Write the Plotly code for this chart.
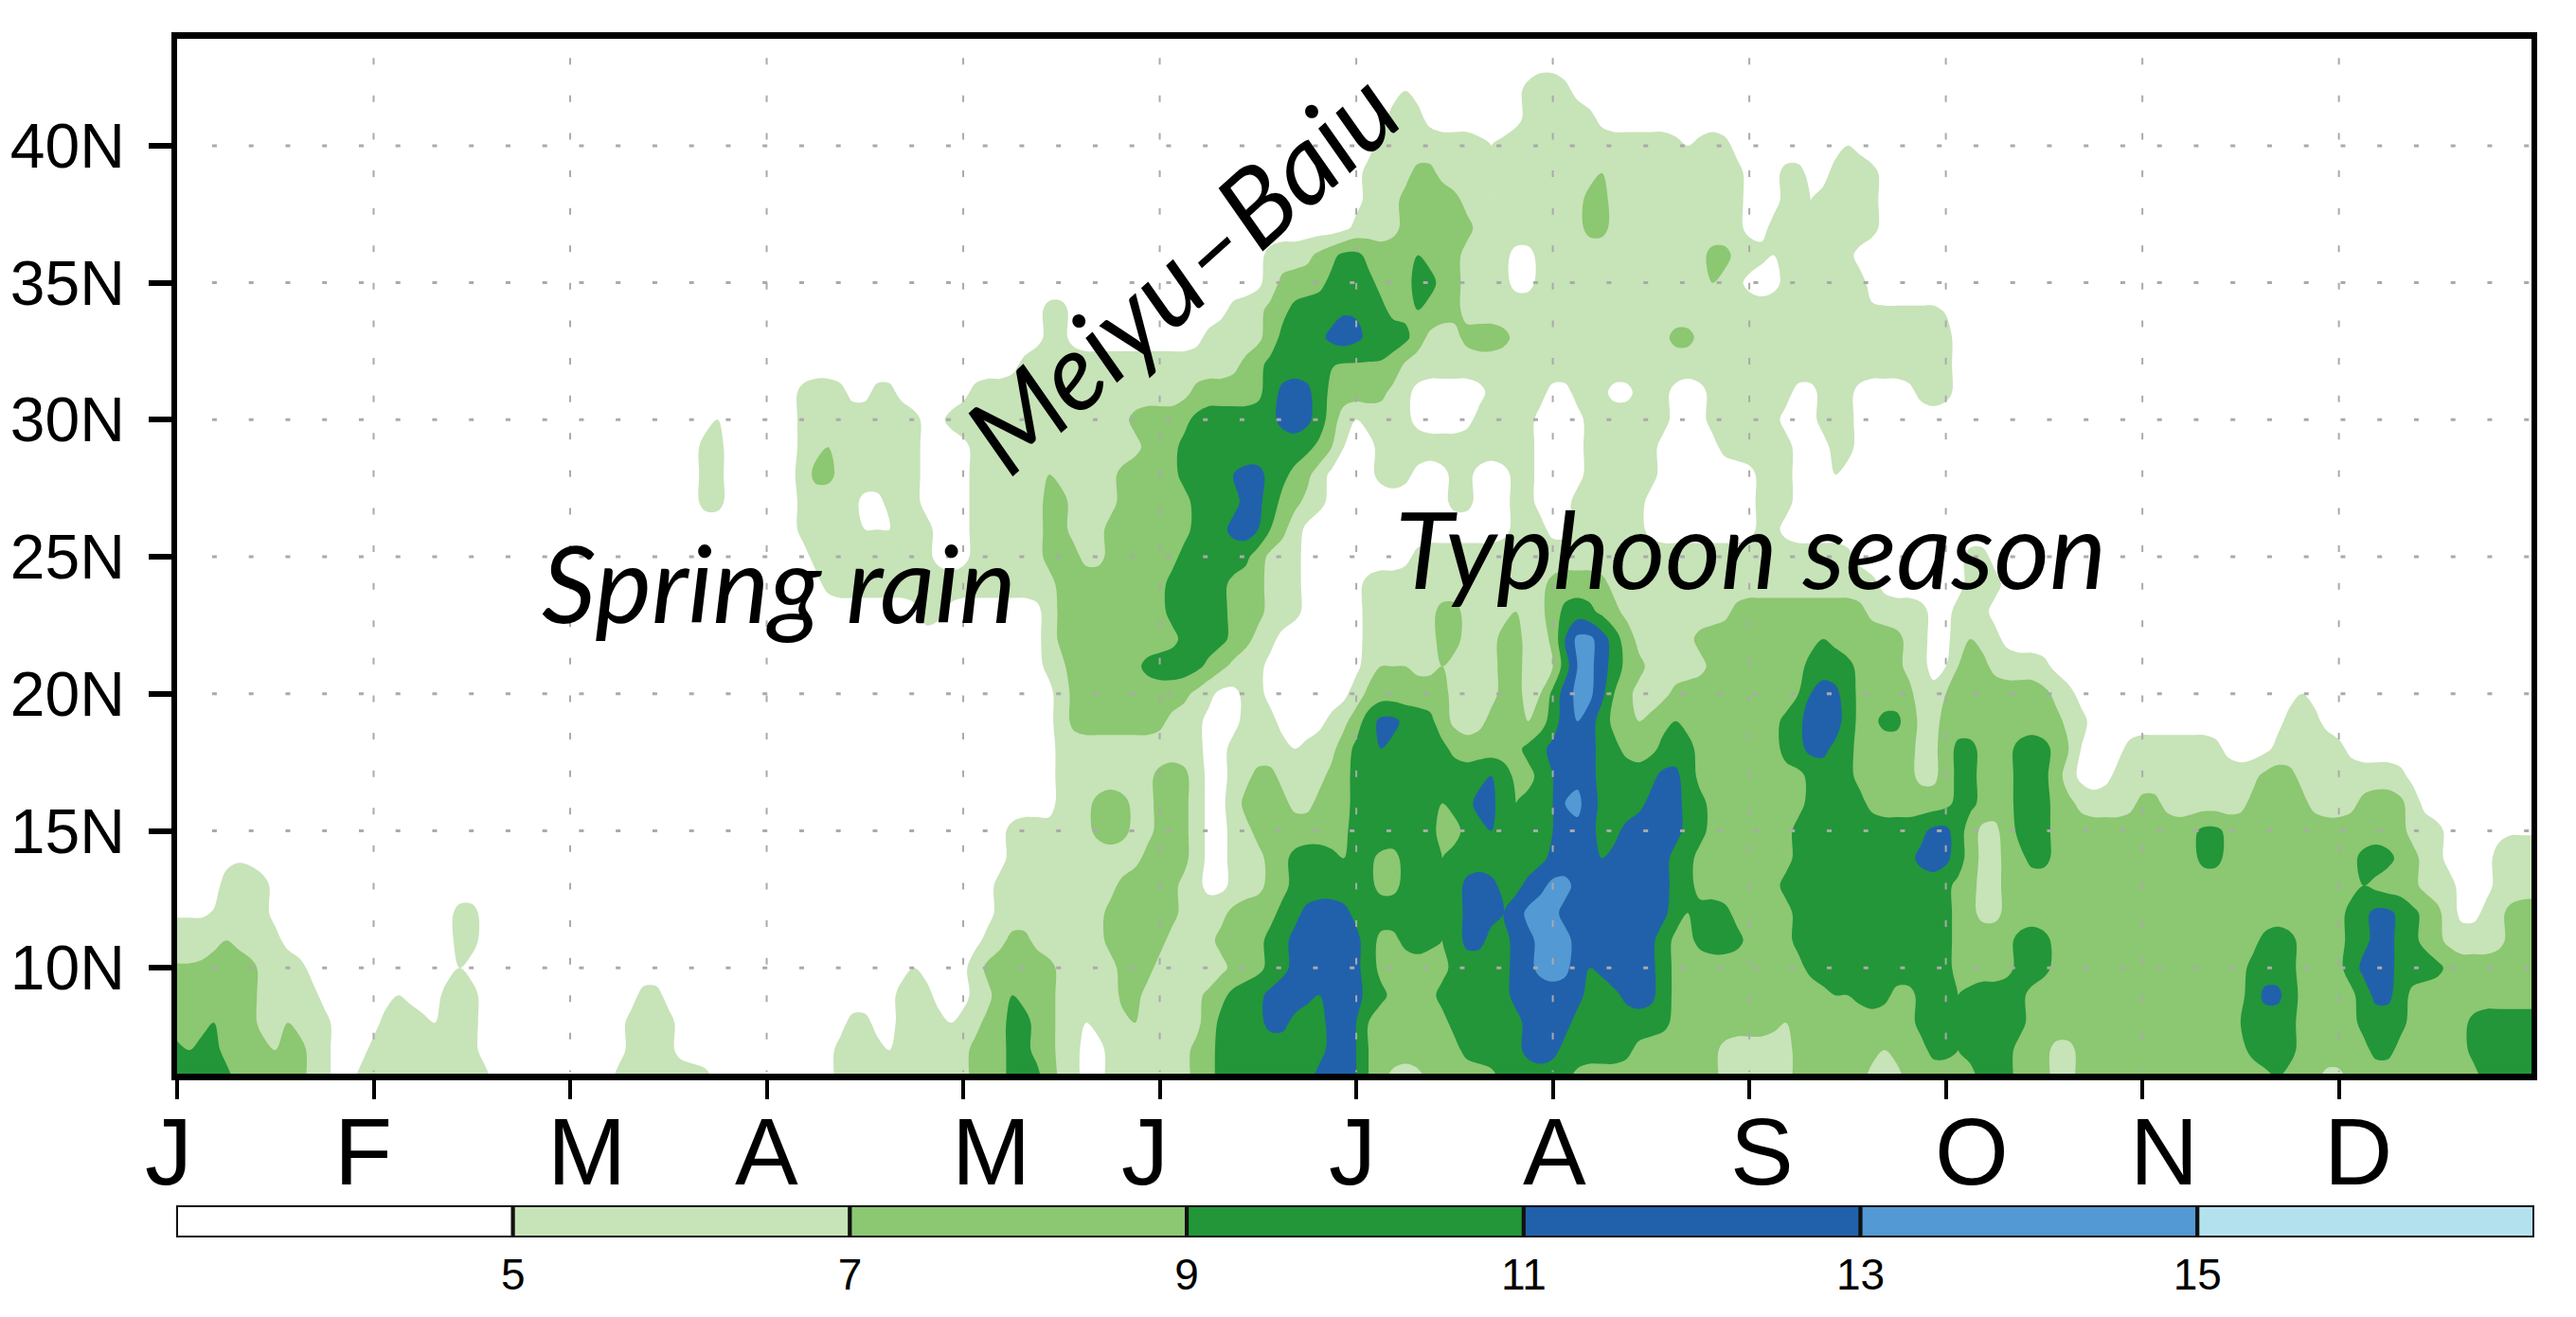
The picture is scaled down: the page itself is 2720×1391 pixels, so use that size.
import numpy as np
import plotly.graph_objects as go

W, H = 2712, 1383   # page keeps an 8 px body margin inside the 2720x1391 window
OFF = 8
def px(v): return (v - OFF) / W
def py(v): return 1 - (v - OFF) / H

# Rainfall (mm/day): (value, month where that value ends) per latitude row
lat_06 = [(10,.30),(8,.63),(6,.80),(4,.92),(6,1.57),(4,2.24),(6,2.74),(4,3.35),(6,4.06),(8,4.2),(10,4.38),(8,4.48),(6,4.58),(4,4.69),(6,5.15),(8,5.28),(10,5.81),(12,6.0),(10,6.04),(8,6.18),(6,6.37),(8,6.7),(10,7.12),(8,7.85),(6,8.2),(8,8.6),(6,8.77),(8,9.15),(10,9.33),(8,9.56),(6,9.68),(8,10.23),(6,10.27),(8,10.68),(10,10.72),(8,10.9),(6,11.06),(8,11.7),(10,12.1)]
lat_07 = [(10,.04),(8,.1),(10,.22),(8,.44),(6,.5),(8,.63),(6,.75),(4,.98),(6,1.53),(4,2.26),(6,2.55),(4,3.37),(6,3.62),(4,3.66),(6,4.06),(8,4.2),(10,4.36),(8,4.47),(6,4.6),(4,4.7),(6,4.83),(8,4.93),(6,5.16),(8,5.29),(10,5.82),(12,6.0),(10,6.05),(8,6.55),(10,6.85),(12,7.01),(10,7.39),(8,7.85),(6,8.2),(8,8.64),(6,8.74),(8,8.9),(10,9.04),(8,9.1),(10,9.35),(8,9.56),(6,9.68),(8,10.53),(10,10.77),(8,11.14),(10,11.31),(8,11.68),(10,12.1)]
lat_08 = [(8,.15),(10,.2),(8,.38),(6,.52),(8,.62),(6,.75),(4,1.03),(6,1.3),(4,1.36),(6,1.5),(4,2.29),(6,2.5),(4,3.41),(6,3.54),(4,3.64),(6,3.91),(4,3.95),(6,4.08),(8,4.2),(10,4.34),(8,4.47),(6,4.62),(4,4.68),(6,4.83),(8,4.93),(6,5.21),(8,5.29),(10,5.52),(12,5.68),(10,5.82),(12,6.01),(10,6.06),(8,6.48),(10,6.85),(12,7.07),(10,7.58),(8,8.14),(6,8.2),(8,8.83),(10,9.06),(8,9.1),(10,9.43),(8,10.41),(10,10.45),(8,10.52),(10,10.81),(8,11.1),(10,11.35),(8,11.66),(10,12.1)]
lat_09 = [(8,.38),(6,.71),(4,1.09),(6,1.17),(4,1.34),(6,1.51),(4,1.95),(6,2.0),(4,2.34),(6,2.49),(4,3.68),(6,3.87),(4,4.05),(6,4.14),(8,4.24),(10,4.27),(8,4.46),(6,4.63),(4,4.7),(6,4.79),(8,4.92),(6,5.21),(8,5.32),(10,5.55),(12,5.77),(10,5.82),(12,6.04),(10,6.15),(8,6.42),(10,6.8),(12,7.15),(10,7.34),(12,7.5),(10,7.59),(8,8.39),(10,8.47),(8,8.53),(10,8.72),(8,8.85),(10,9.03),(8,9.12),(10,9.43),(8,10.54),(10,10.61),(12,10.7),(10,10.8),(8,11.08),(10,11.14),(12,11.26),(10,11.35),(8,12.1)]
lat_10 = [(7.2,.15),(8,.38),(6,.65),(4,1.4),(6,1.49),(4,3.72),(6,3.78),(4,4.06),(6,4.12),(8,4.45),(6,4.79),(8,4.98),(6,5.15),(4,5.21),(6,5.37),(8,5.5),(10,5.66),(12,6.01),(10,6.09),(8,6.46),(10,6.79),(12,6.88),(14,7.08),(12,7.15),(10,7.2),(12,7.37),(14,7.4),(12,7.54),(10,7.59),(8,8.27),(10,9.02),(8,9.35),(10,9.52),(8,10.54),(10,10.79),(8,11.02),(10,11.12),(12,11.31),(10,11.5),(8,12.1)]
lat_11 = [(6,.2),(8,.29),(6,.56),(4,1.41),(6,1.52),(4,4.09),(6,4.23),(8,4.35),(6,4.73),(8,5.03),(6,5.3),(8,5.52),(10,5.68),(12,6.0),(10,6.1),(8,6.19),(10,6.38),(8,6.44),(10,6.54),(12,6.67),(10,6.8),(12,6.88),(14,7.07),(12,7.33),(14,7.42),(12,7.53),(10,7.59),(8,7.74),(10,7.95),(8,8.22),(10,8.87),(12,8.93),(10,9.04),(8,9.35),(10,9.56),(8,10.62),(10,10.81),(8,11.04),(10,11.16),(12,11.28),(10,11.43),(8,11.56),(6,11.83),(8,12.1)]
lat_12 = [(4.8,.2),(6,.44),(4,1.42),(6,1.53),(4,4.13),(6,4.73),(8,5.08),(6,5.34),(8,5.59),(10,5.69),(12,5.99),(10,6.41),(8,6.47),(10,6.54),(12,6.7),(10,6.8),(12,6.86),(14,7.01),(12,7.59),(10,7.66),(8,7.72),(10,7.93),(8,8.2),(10,8.85),(12,8.93),(10,9.06),(8,9.14),(6,9.31),(8,11.02),(10,11.15),(12,11.25),(10,11.39),(8,11.52),(6,11.6),(4,11.7),(6,11.87),(8,12.1)]
lat_13 = [(4,.22),(6,.44),(4,4.15),(6,4.52),(4,4.58),(6,4.77),(8,5.1),(6,5.2),(4,5.32),(6,5.5),(8,5.64),(10,6.11),(8,6.21),(10,6.41),(8,6.48),(10,6.53),(12,6.7),(10,6.83),(12,6.94),(14,7.07),(12,7.61),(10,7.69),(8,8.14),(10,9.06),(8,9.14),(6,9.31),(8,11.1),(10,11.18),(8,11.39),(6,11.58),(4,11.76),(6,12.1)]
lat_14 = [(4,.23),(4.8,.42),(4,4.2),(6,4.89),(8,5.14),(6,5.21),(4,5.36),(6,5.5),(8,5.67),(10,5.89),(8,5.96),(10,6.11),(8,6.21),(10,6.43),(8,6.49),(10,6.95),(12,7.23),(10,7.3),(12,7.61),(10,7.71),(8,8.2),(10,8.87),(12,9.0),(10,9.08),(8,9.16),(6,9.29),(8,9.4),(10,9.52),(8,9.89),(10,9.95),(8,10.29),(10,10.39),(8,11.08),(10,11.27),(8,11.39),(6,11.52),(4,11.75),(6,12.1)]
lat_15 = [(4,4.22),(6,4.44),(4,4.5),(6,4.68),(8,4.84),(6,4.98),(8,5.15),(6,5.21),(4,5.35),(6,5.47),(8,5.95),(10,6.06),(12,6.11),(10,6.43),(8,6.5),(10,6.65),(12,6.74),(10,6.79),(8,6.87),(10,7.0),(14,7.12),(12,7.22),(10,7.32),(12,7.65),(10,7.76),(8,8.22),(10,8.89),(12,9.01),(10,9.1),(8,9.16),(6,9.27),(8,9.37),(10,9.53),(8,10.3),(10,10.39),(8,11.35),(6,11.5),(4,11.75),(4.8,12.1)]
lat_16 = [(4,4.47),(6,4.67),(8,4.83),(6,4.97),(8,5.14),(6,5.21),(4,5.37),(6,5.43),(8,5.64),(6,5.79),(8,5.95),(10,6.11),(12,6.15),(10,6.43),(8,6.48),(10,6.59),(12,6.74),(10,6.79),(8,6.86),(10,7.0),(14,7.13),(12,7.22),(10,7.47),(12,7.65),(10,7.77),(8,8.0),(10,8.06),(8,8.25),(10,8.58),(8,9.04),(10,9.14),(8,9.37),(10,9.52),(8,9.66),(6,9.95),(8,10.08),(6,10.54),(8,10.87),(6,11.1),(8,11.33),(6,11.41),(4,12.1)]
lat_17 = [(4,4.47),(6,4.98),(8,5.13),(6,5.21),(4,5.37),(6,5.46),(8,5.59),(6,5.84),(8,5.96),(10,6.44),(8,6.49),(10,6.65),(12,6.74),(10,6.8),(8,6.92),(10,7.0),(14,7.12),(12,7.23),(10,7.54),(12,7.65),(10,7.74),(8,8.12),(10,8.18),(8,8.25),(10,8.5),(8,8.83),(6,8.95),(8,9.02),(10,9.14),(8,9.37),(10,9.52),(8,9.62),(6,9.68),(4,9.83),(6,10.6),(8,10.8),(6,11.35),(4,12.1)]
lat_18 = [(4,4.46),(6,5.21),(4,5.37),(6,5.65),(4,5.7),(6,5.89),(8,5.99),(10,6.11),(12,6.17),(10,6.44),(8,6.85),(10,6.97),(12,7.2),(10,7.32),(8,7.5),(10,7.71),(8,8.18),(10,8.27),(12,8.43),(10,8.5),(8,8.83),(6,8.95),(8,9.04),(10,9.14),(8,9.37),(10,9.52),(8,9.66),(4,9.91),(6,10.41),(4,10.66),(6,11.0),(4,12.1)]
lat_19 = [(4,4.45),(6,4.54),(8,5.03),(6,5.23),(4,5.4),(6,5.57),(4,5.82),(6,5.96),(8,6.06),(10,6.09),(12,6.21),(10,6.42),(8,6.48),(6,6.65),(8,6.82),(6,6.88),(8,6.97),(10,7.03),(12,7.1),(14,7.17),(12,7.23),(10,7.31),(8,7.39),(6,7.47),(8,7.59),(10,7.64),(8,8.16),(10,8.27),(12,8.32),(14,8.39),(12,8.45),(10,8.53),(8,8.66),(10,8.79),(8,8.83),(6,8.95),(8,9.62),(6,9.72),(4,10.72),(6,10.93),(4,12.1)]
lat_20 = [(4,4.45),(6,4.52),(8,5.13),(6,5.29),(4,5.41),(6,5.5),(4,5.98),(6,6.04),(8,6.46),(6,6.7),(8,6.82),(6,6.97),(10,7.03),(12,7.1),(14,7.21),(12,7.26),(10,7.31),(8,7.42),(6,7.57),(8,8.27),(10,8.31),(12,8.45),(10,8.5),(8,8.83),(6,8.91),(4,8.97),(8,9.56),(6,9.68),(4,10.81),(6,10.87),(4,12.1)]
lat_21 = [(4,4.41),(6,4.5),(8,4.6),(10,4.65),(8,4.88),(10,5.23),(8,5.32),(6,5.5),(4,6.01),(6,6.09),(8,6.14),(6,6.19),(8,6.29),(6,6.38),(8,6.46),(6,6.73),(8,6.85),(6,7.0),(10,7.07),(12,7.1),(14,7.23),(12,7.27),(10,7.32),(8,7.45),(6,7.75),(8,8.27),(10,8.51),(8,8.79),(6,8.91),(4,9.0),(8,9.2),(6,9.52),(4,12.1)]
lat_22 = [(4,3.7),(6,3.8),(4,4.39),(6,4.49),(8,5.08),(10,5.34),(8,5.47),(6,5.6),(4,6.01),(6,6.38),(8,6.5),(6,6.73),(8,6.86),(6,7.0),(10,7.05),(12,7.1),(14,7.22),(12,7.28),(10,7.33),(8,7.41),(6,7.69),(8,8.32),(10,8.43),(8,8.77),(6,8.91),(4,9.06),(6,9.1),(8,9.18),(6,9.25),(4,12.1)]
lat_23 = [(4,3.81),(6,3.91),(4,4.4),(6,4.48),(8,5.06),(10,5.35),(8,5.5),(6,5.7),(4,6.02),(6,6.4),(8,6.5),(6,6.75),(8,6.86),(6,6.98),(8,7.05),(10,7.2),(8,7.33),(6,7.93),(8,8.58),(6,8.89),(4,9.06),(6,9.22),(4,12.1)]
lat_24 = [(4,3.28),(6,4.48),(8,5.06),(10,5.33),(8,5.54),(6,5.7),(4,6.04),(6,6.98),(8,7.29),(6,7.5),(4,7.57),(6,8.65),(4,9.08),(6,9.25),(4,12.1)]
lat_25 = [(4,3.22),(6,3.87),(4,4.06),(6,4.39),(8,4.6),(6,4.71),(8,5.12),(10,5.47),(8,5.56),(6,5.7),(4,6.25),(6,8.5),(4,9.1),(6,9.22),(4,12.1)]
lat_26 = [(4,3.15),(6,3.49),(4,3.55),(6,3.62),(4,3.68),(6,3.87),(4,4.03),(6,4.39),(8,4.54),(6,4.73),(8,5.13),(10,5.36),(12,5.5),(10,5.54),(8,5.65),(6,5.72),(4,6.8),(6,6.94),(4,7.08),(6,7.44),(4,8.0),(6,8.17),(4,12.1)]
lat_27 = [(4,1.5),(6,1.56),(4,2.66),(6,2.8),(4,2.88),(6,2.94),(4,3.15),(6,3.49),(4,3.62),(6,3.79),(4,4.03),(6,4.39),(8,4.5),(6,4.79),(8,5.13),(10,5.39),(12,5.51),(10,5.6),(8,5.72),(6,5.82),(4,6.46),(6,6.57),(4,6.8),(6,6.93),(4,7.08),(6,7.45),(4,8.0),(6,8.19),(4,9.14),(6,9.19),(4,12.1)]
lat_28 = [(4,2.66),(6,2.8),(4,3.16),(6,3.22),(8,3.33),(6,3.79),(4,4.03),(6,4.38),(8,4.48),(6,4.81),(8,5.12),(10,5.26),(12,5.35),(10,5.43),(12,5.5),(10,5.65),(8,5.8),(6,5.87),(4,6.12),(6,6.26),(4,6.44),(6,6.6),(4,6.79),(6,6.9),(4,7.13),(6,7.54),(4,8.0),(6,8.21),(4,8.4),(6,8.47),(4,12.1)]
lat_29 = [(4,2.66),(6,2.78),(4,3.15),(6,3.26),(8,3.33),(6,3.79),(4,4.02),(6,4.39),(8,4.48),(6,4.9),(8,5.1),(10,5.26),(12,5.35),(10,5.8),(8,5.88),(6,5.93),(4,6.1),(6,6.89),(4,7.15),(6,7.55),(4,7.82),(6,8.19),(4,8.38),(6,8.55),(4,12.1)]
lat_30 = [(4,1.8),(6,1.85),(4,2.74),(6,2.8),(4,3.16),(6,3.79),(4,3.93),(6,4.87),(8,5.17),(10,5.58),(12,5.77),(10,5.83),(8,5.91),(6,5.97),(4,6.06),(6,6.3),(4,6.62),(6,6.88),(4,7.17),(6,7.58),(4,7.81),(6,8.17),(4,8.37),(6,8.55),(4,12.1)]
lat_31 = [(4,3.16),(6,3.41),(4,3.54),(6,3.68),(4,4.0),(6,5.16),(8,5.5),(10,5.58),(12,5.75),(10,5.83),(8,6.17),(6,6.31),(4,6.67),(6,6.89),(4,6.92),(6,6.98),(4,7.1),(6,7.27),(4,7.41),(6,7.59),(4,7.79),(6,7.88),(4,7.94),(6,8.23),(4,8.37),(6,8.56),(4,8.83),(6,9.0),(4,12.1)]
lat_32 = [(4,4.29),(6,5.41),(8,5.54),(10,5.83),(8.8,6.23),(6,9.04),(4,12.1)]
lat_33 = [(4,4.39),(6,4.52),(4,5.22),(6,5.54),(8,5.62),(10,5.84),(12,6.06),(10,6.25),(8,6.36),(6,6.53),(8,6.8),(6,7.0),(4,7.08),(6,7.62),(8,7.74),(6,8.19),(8,8.25),(6,9.04),(4,9.2),(6,9.25),(4,12.1)]
lat_34 = [(4,4.39),(6,4.52),(4,5.35),(6,5.54),(8,5.66),(10,5.9),(11,6.02),(10,6.16),(8,6.27),(10,6.34),(8,6.53),(6,7.03),(4,7.06),(6,8.33),(5.2,9.0),(4,12.1)]
lat_35 = [(4,5.5),(6,5.6),(8,5.87),(10,6.08),(8,6.28),(10,6.39),(8,6.54),(6,6.8),(4,6.91),(6,7.79),(8,7.87),(6,7.99),(4,8.16),(6,8.3),(4,8.33),(6,8.58),(4,12.1)]
lat_36 = [(4,5.5),(6,5.8),(8,5.91),(10,6.01),(8,6.29),(10,6.37),(8,6.56),(6,6.8),(4,6.91),(6,7.8),(8,7.89),(6,8.12),(4,8.16),(6,8.29),(4,8.33),(6,8.54),(4,12.1)]
lat_37 = [(4,5.95),(6,6.2),(8,6.57),(6,7.14),(8,7.29),(6,7.95),(4,8.12),(6,8.29),(4,8.37),(6,8.68),(4,12.1)]
lat_38 = [(4,6.0),(6,6.2),(8,6.56),(6,6.66),(4,6.7),(6,7.14),(8,7.3),(6,7.97),(4,8.16),(6,8.29),(4,8.37),(6,8.68),(4,12.1)]
lat_39 = [(4,6.04),(6,6.26),(8,6.43),(6,6.66),(4,6.7),(6,7.2),(8,7.29),(6,7.97),(4,8.16),(6,8.29),(4,8.41),(6,8.66),(4,12.1)]
lat_40 = [(4,6.12),(6,6.64),(4,6.72),(6,7.66),(4,7.72),(6,7.91),(4,8.49),(6,8.55),(4,12.1)]
lat_41 = [(4,6.16),(6,6.33),(4,6.87),(6,7.22),(4,12.1)]
lat_42 = [(4,6.2),(6,6.3),(4,6.87),(6,7.12),(4,12.1)]
lat_43 = [(4,6.93),(4.6,7.0),(4,12.1)]
lat_44 = [(4,12.1)]

latitudes = list(range(6, 45))
rows = [lat_06,lat_07,lat_08,lat_09,lat_10,lat_11,lat_12,lat_13,lat_14,lat_15,lat_16,lat_17,lat_18,lat_19,lat_20,lat_21,lat_22,lat_23,lat_24,lat_25,lat_26,lat_27,lat_28,lat_29,lat_30,lat_31,lat_32,lat_33,lat_34,lat_35,lat_36,lat_37,lat_38,lat_39,lat_40,lat_41,lat_42,lat_43,lat_44]
months = ["J","F","M","A","M","J","J","A","S","O","N","D"]
month_ticks = list(range(12))
lat_ticks = [10,15,20,25,30,35,40]
lat_labels = ["10N","15N","20N","25N","30N","35N","40N"]
band_base = [3,5,7,9,11,13,15]
band_width = [2,2,2,2,2,2,2]
band_colors = ["#FFFFFF","#C7E3B8","#8CC771","#229639","#2161AC","#5399D4","#B3E2EE"]
band_ticks = [5,7,9,11,13,15]

month_grid = np.arange(0, 193) / 16
def expand(row):
    ends = np.array([r[1] for r in row])
    vals = np.array([r[0] for r in row], dtype=float)
    v = vals[np.minimum(np.searchsorted(ends, month_grid, side="left"), len(vals)-1)]
    p = np.pad(v, 1, mode="edge")
    return (p[:-2] + 2*p[1:-1] + p[2:]) / 4
z = np.array([expand(r) for r in rows])

scale = []
for i, c in enumerate(band_colors):
    scale += [[i/7, c], [(i+1)/7, c]]

fig = go.Figure()
fig.add_trace(go.Contour(x=month_grid, y=latitudes, z=z, zmin=3, zmax=17, autocontour=False,
    contours=dict(start=5, end=15, size=2, coloring="fill", showlines=False),
    line=dict(width=0, smoothing=1.0), colorscale=scale, showscale=False, hoverinfo="skip"))
for b, w, c in zip(band_base, band_width, band_colors):
    fig.add_trace(go.Bar(x=[w], y=[0], base=[b], orientation="h", width=1, marker=dict(color=c, line=dict(color="#111111", width=4)),
                         xaxis="x2", yaxis="y2", showlegend=False, hoverinfo="skip"))

shapes = []
for m in month_ticks[1:]:
    shapes.append(dict(type="line", xref="x", yref="y", x0=m, x1=m, y0=43.2, y1=6.2, layer="above",
                       line=dict(color="#AAAAAA", width=2, dash="7px,32.6px")))
for la in lat_ticks:
    shapes.append(dict(type="line", xref="x", yref="y", x0=0.178, x1=12, y0=la, y1=la, layer="above",
                       line=dict(color="#AAAAAA", width=3, dash="5px,33.75px")))

ann = []
month_label_px = [178,383,619,810,1046,1209,1428,1641,1860,2082,2285,2490]
for t, p in zip(months, month_label_px):
    ann.append(dict(text=t, x=px(p), y=py(1216), xref="paper", yref="paper", showarrow=False, xanchor="center", yanchor="middle",
                    font=dict(family="Liberation Sans", size=100, color="black")))
for t, p, q, rot in [("Spring rain",822,614,0),("Typhoon season",1848,578,0),("Meiyu–Baiu",1246,285,-42)]:
    ann.append(dict(text="<i>"+t+"</i>", x=px(p), y=py(q), xref="paper", yref="paper", showarrow=False, xanchor="center", yanchor="middle",
                    textangle=rot, font=dict(family="Lato", size=113, color="black")))

fig.update_layout(width=W, height=H, margin=dict(l=0,r=0,t=0,b=0), autosize=False, paper_bgcolor="white", plot_bgcolor="white",
    barmode="overlay", showlegend=False, shapes=shapes, annotations=ann,
    xaxis=dict(domain=[px(187),px(2673)], range=[0,11.98], tickvals=month_ticks, showticklabels=False, ticks="outside", ticklen=20, tickwidth=4,
               tickcolor="black", showline=True, linewidth=7, linecolor="black", mirror=True, showgrid=False, zeroline=False, layer="above traces", automargin=False),
    yaxis=dict(domain=[py(1134),py(41)], range=[6.14,43.9], tickvals=lat_ticks, ticktext=lat_labels, ticks="outside", ticklen=24, tickwidth=6,
               tickcolor="black", showline=True, linewidth=6, linecolor="black", mirror=True, showgrid=False, zeroline=False, layer="above traces", automargin=False,
               tickfont=dict(family="Liberation Sans", size=66, color="black"), ticklabelstandoff=12),
    xaxis2=dict(domain=[px(186),px(2676)], range=[3,17], anchor="y2", tickvals=band_ticks, ticks="", showgrid=False, zeroline=False, showline=False,
                tickfont=dict(family="Liberation Sans", size=46, color="black"), automargin=False, ticklabelstandoff=8),
    yaxis2=dict(domain=[py(1307),py(1273)], range=[-.5,.5], anchor="x2", showticklabels=False, ticks="", showgrid=False, zeroline=False, showline=False, automargin=False),
)
fig.write_html("out.html")
